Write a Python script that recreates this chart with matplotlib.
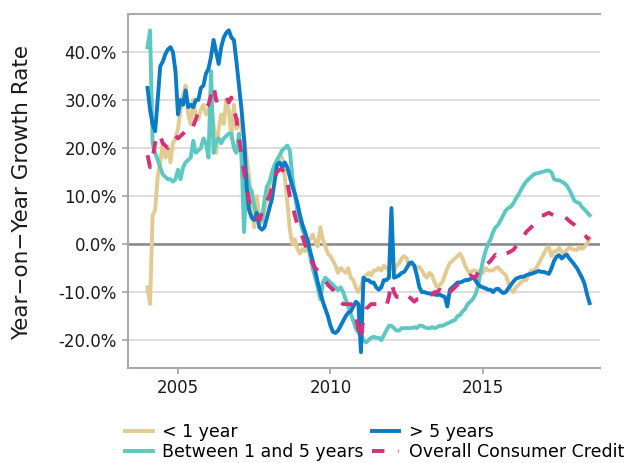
import numpy as np
import matplotlib
matplotlib.use("Agg")
from matplotlib import pyplot as plt
from matplotlib.ticker import FuncFormatter

# monthly year-on-year growth rates (%), Jan 2004 - Jul 2018
less1 = [-9, -12.5, 6, 7, 14, 17, 21, 18, 20, 17, 21, 22,
         24, 28, 31, 33, 27, 25, 30, 27, 26, 28, 29, 27,
         28, 29, 25, 19, 24, 27, 25, 30, 28, 22, 29, 24,
         26, 24, 22, 18, 14, 7, 3.5, 10, 5.5, 4.5, 7, 10,
         12, 14, 16, 17.5, 18.5, 18, 14, 9, 3, 0, 1, -1,
         -2, -1, -1.5, 0, 1, 2, 0.5, -0.5, 3.5, 1, -0.5, -2,
         -2.5, -3.5, -4.5, -6, -5, -5.5, -6, -5, -7, -7.5, -9, -10,
         -9, -7, -6.5, -6, -6.5, -5.5, -5.5, -5, -5.5, -4.5, -5, -5,
         -5, -5.5, -4.5, -4, -3, -2.5, -3, -4.5, -4, -4.5, -5, -4.8,
         -5.5, -6.5, -7, -6, -6.5, -8, -9, -8.5, -8, -6.5, -5, -4,
         -3.5, -3, -2.5, -2, -3, -4.5, -5.5, -6, -5.5, -5.5, -6, -5.5,
         -6, -5, -5.5, -5.5, -5.5, -5, -4.8, -5.5, -6, -6.5, -8, -9.5,
         -10, -9, -8.5, -8, -7.5, -7.5, -6.5, -5.5, -5.5, -5, -4, -3,
         -2, -1, -0.6, -2.5, -1.5, -1.5, -0.8, -1.5, -2, -1.2, -0.8, -1,
         -1.2, -1.2, -0.6, -1, -0.6, 0.2, 1.2]

between = [41, 44.5, 21, 19, 17.5, 16, 14.5, 14, 13.5, 13.5, 13, 13.5,
           15.5, 13.5, 16, 17, 17.5, 18, 21.5, 19, 19.5, 20, 22, 21,
           18, 36, 19, 21.5, 22, 21, 22, 22.5, 23, 23, 20, 19,
           23, 18, 2.5, 14.5, 12, 11, 8, 6, 5.5, 5, 9, 12,
           13, 15, 16.5, 17.5, 18.5, 19.5, 20, 20.5, 19.5, 14, 10, 7,
           5, 3, 1.5, 0, -2.5, -5, -7, -9, -11.5, -8, -7, -7.5,
           -8, -8.5, -9, -9.6, -9, -10, -11.5, -13, -14.5, -16, -17.5, -18.5,
           -19, -20, -20.5, -20, -19.5, -19.3, -19.5, -19.5, -20, -19, -18, -17,
           -17, -17.5, -18, -18, -17.5, -17.5, -17.5, -17.5, -17.5, -17.3, -17.5, -17,
           -17, -17.3, -17.5, -17.5, -17.3, -17.5, -17.3, -17, -17, -16.8, -16.5, -16.3,
           -16, -15.8, -15, -14.8, -14, -13.5, -12.5, -12, -11.5, -10.5, -9, -6,
           -3.5, -1.5, 0, 1, 2.5, 3.5, 4, 5, 6, 7, 7.5, 7.8,
           8.5, 9.5, 10.3, 11.3, 12.2, 13, 13.5, 14, 14.5, 14.7, 14.8, 15,
           15.1, 15.3, 15.3, 14.9, 13.5, 13.3, 13.3, 13, 12.7, 12.2, 11.3, 10.2,
           9, 8.7, 8.5, 7.7, 7.2, 6.6, 6]

more5 = [32.5, 28, 25, 23.5, 30, 37, 38, 39.5, 40.5, 41, 40, 36,
         27, 30, 29, 32, 28.5, 29, 28.5, 30, 30, 32.5, 33, 35.5,
         36.5, 39, 42.5, 40, 37.5, 41, 43, 44, 44.5, 43, 42.5, 38,
         33, 28, 22, 12, 7, 5.5, 5, 6.5, 3.5, 3, 3.5, 5.5,
         7.5, 9.5, 13, 16.5, 17, 16, 17, 16, 14, 12, 10.5, 8.5,
         6, 4, 2.5, 0.8, -1.5, -3.5, -5.5, -8, -10, -12, -13.5, -15,
         -17, -18.3, -18.5, -18, -17, -16, -15, -14.3, -14, -13, -12, -12.5,
         -22.5, -7, -7.5, -7.5, -8, -8, -9, -9.5, -9, -7.5, -7.5, -7,
         7.5, -7, -6.8, -6.5, -6, -5.8, -5, -4, -3.8, -4.5, -6.5, -9,
         -10, -10, -10.2, -10.3, -10.3, -10.5, -10.6, -10.5, -10.8, -11, -13, -9.5,
         -9, -8.5, -8, -8, -7.8, -7.5, -7.5, -7.3, -6.8, -7.5, -8.3, -8.8,
         -9, -9.2, -9.5, -9.5, -10, -9.4, -9.3, -9.8, -10.2, -10, -9.2, -8.5,
         -7.8, -7.2, -7, -6.8, -6.8, -6.5, -6.3, -6.2, -6, -5.8, -5.6, -5.8,
         -5.8, -6, -6.2, -5, -3.5, -2.6, -2.3, -3, -2.5, -2.2, -3, -3.6,
         -4.3, -5, -6, -7, -8.3, -10.5, -12.3]

overall = [18.5, 16, 18, 21, 23, 22.5, 21, 20.5, 20, 21, 22, 22.5,
           22, 22.5, 23, 23.5, 24, 23.5, 24.5, 26, 27.5, 28, 28.5, 28.5,
           29, 31, 33, 30, 29, 29.5, 30, 30.5, 29.5, 30.5, 28, 26,
           22, 18.5, 15, 12, 9, 7, 6, 5.5, 5, 6.5, 8, 9,
           10, 12, 14, 15, 15.5, 15.5, 15, 13, 10, 8, 6, 4,
           3, 1.5, 0, -2, -3, -4, -5, -5.5, -6, -7, -7.5, -8.5,
           -9, -9.5, -10.5, -11, -12, -12.5, -12.5, -12.5, -12.5, -13, -15, -18,
           -20, -15, -13.5, -13, -12.5, -12.5, -12.5, -12.5, -12.5, -13, -13, -11,
           -8, -10, -11, -11, -11.5, -11, -10.5, -11, -11.5, -12, -11.5, -11.5,
           -11.5, -11, -11, -10.5, -10.5, -10, -10, -9.5, -10, -10.5, -11, -10,
           -9.5, -9, -8.5, -8, -7.5, -7, -6.8, -6.5, -6.8, -7, -6, -5,
           -5, -4.5, -4, -3.5, -2.8, -2.2, -2.5, -3, -2.5, -2, -1.8, -1.5,
           -1.2, -0.5, 0.3, 0.8, 1.5, 2.5, 3, 3.5, 4, 4.5, 5.2, 6,
           6, 6.3, 6.5, 6.2, 6, 5.8, 5.6, 6, 5.8, 5.3, 4.8, 4.4,
           4, 3.5, 3, 2.5, 2, 1.3, 1]

labels = ["< 1 year", "Between 1 and 5 years", "> 5 years", "Overall Consumer Credit"]
colors = ["#e2cb92", "#5cc8c1", "#0a7bc4", "#d6307a"]
xticks = [2005, 2010, 2015]
yticks = [-20, -10, 0, 10, 20, 30, 40]

t = 2004 + np.arange(len(less1)) / 12.0

fig = plt.figure(figsize=(6.32, 4.63), dpi=100)
ax = fig.add_axes([128 / 632, 1 - 368 / 463, 472 / 632, 354 / 463])

ax.yaxis.grid(True, color="#dedede", lw=1.5)
ax.set_axisbelow(True)
ax.axhline(0, color="#888888", lw=1.8, zorder=1.5)

series = [less1, between, more5, overall]
for vals, lab, col in zip(series, labels, colors):
    if lab == "Overall Consumer Credit":
        ax.plot(t, vals, color=col, lw=2.8, linestyle=(0, (3.2, 3.6)), label=lab, zorder=3)
    else:
        ax.plot(t, vals, color=col, lw=2.8, label=lab, zorder=2)

ax.set_xlim(2003.36, 2018.84)
ax.set_ylim(-25.8, 47.9)
ax.set_xticks(xticks)
ax.set_xticklabels([str(x) for x in xticks])
ax.set_yticks(yticks)
ax.yaxis.set_major_formatter(FuncFormatter(lambda v, p: f"{v:.1f}%"))
ax.tick_params(length=4, width=1.3, color="#aaaaaa", labelsize=12, labelcolor="#1a1a1a", pad=4)

for s in ["left", "top", "bottom"]:
    ax.spines[s].set_color("#aaaaaa")
    ax.spines[s].set_linewidth(1.5)
ax.spines["right"].set_visible(False)

fig.text(22 / 632, 1 - 193 / 463, "Year\u2212on\u2212Year Growth Rate", rotation=90,
         ha="center", va="center", fontsize=15.5, color="#1a1a1a")

fig.legend(loc="upper left", bbox_to_anchor=(125 / 632, 1 - 423 / 463),
           ncol=2, frameon=False, fontsize=12.5, handlelength=1.6,
           handletextpad=0.55, columnspacing=0.45, labelspacing=0.1,
           borderpad=0, borderaxespad=0)

fig.savefig("out.png", dpi=100)
